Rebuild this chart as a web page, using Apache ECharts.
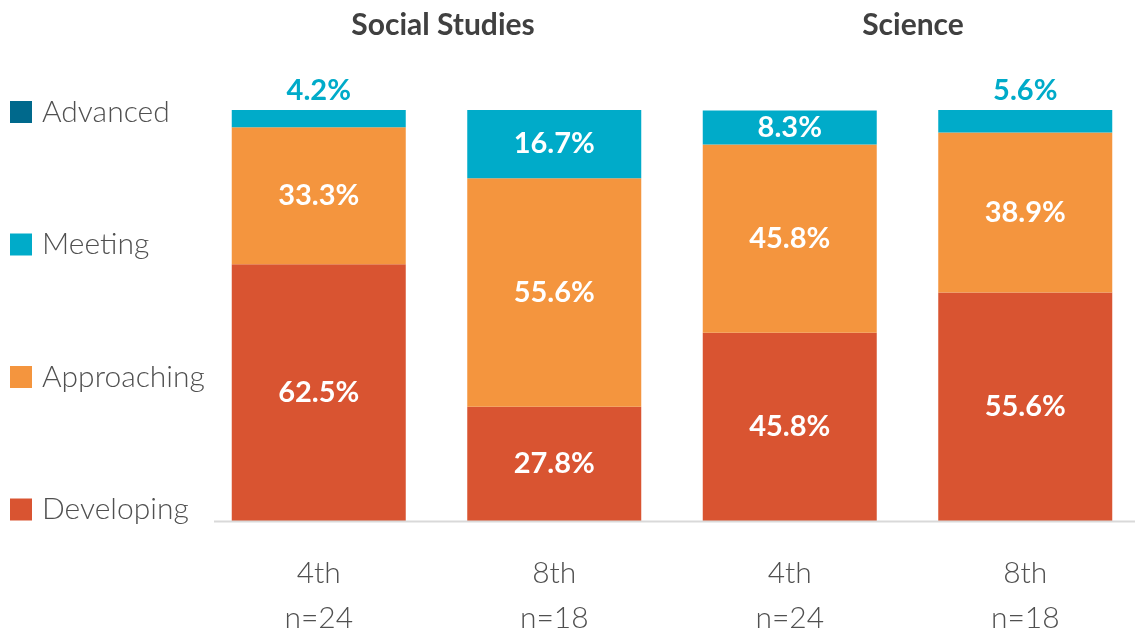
<!DOCTYPE html>
<html>
<head>
<meta charset="utf-8">
<script src="https://cdn.jsdelivr.net/npm/echarts@6/dist/echarts.min.js"></script>
<style>
  html, body { margin: 0; padding: 0; background: #fff; }
  #main { width: 1135px; height: 632px; }
</style>
</head>
<body>
<div id="main"></div>
<script>
// data
var grades = ['4th\nn=24', '8th\nn=18', '4th\nn=24', '8th\nn=18'];
var subjects = ['Social Studies', 'Science'];
var developing = [62.5, 27.8, 45.8, 55.6];
var approaching = [33.3, 55.6, 45.8, 38.9];
var meeting = [4.2, 16.7, 8.3, 5.6];
var advanced = [0, 0, 0, 0];
var levels = ['Advanced', 'Meeting', 'Approaching', 'Developing'];

var colors = {
  Advanced: '#00698c',
  Meeting: '#00abc9',
  Approaching: '#f4953e',
  Developing: '#d95431'
};
var FONT = 'Lato, "Noto Sans", sans-serif';

var chart = echarts.init(document.getElementById('main'));

// small segments get their label above the bar, in the bar colour
function meetingData() {
  return meeting.map(function (v) {
    if (v < 8) {
      return {
        value: v,
        label: { position: 'top', color: colors.Meeting, distance: 5 }
      };
    }
    return v;
  });
}

var labelStyle = {
  show: true,
  position: 'inside',
  color: '#fff',
  fontFamily: FONT,
  fontWeight: 'bold',
  fontSize: 29,
  formatter: function (p) { return p.value.toFixed(1) + '%'; }
};

function makeSeries(name, data, withLabel) {
  return {
    name: name,
    type: 'bar',
    stack: 'total',
    barWidth: 174,
    data: data,
    itemStyle: { color: colors[name] },
    label: withLabel ? labelStyle : { show: false },
    emphasis: { disabled: true }
  };
}

var option = {
  animation: false,
  title: [
    {
      text: subjects[0], left: 438, top: 5, textAlign: 'center',
      textStyle: { fontFamily: FONT, fontWeight: 'bold', fontSize: 30, color: '#404040' }
    },
    {
      text: subjects[1], left: 908, top: 5, textAlign: 'center',
      textStyle: { fontFamily: FONT, fontWeight: 'bold', fontSize: 30, color: '#404040' }
    }
  ],
  legend: {
    orient: 'vertical',
    left: 5,
    top: 92,
    itemWidth: 22,
    itemHeight: 22,
    itemGap: 102.5,
    icon: 'rect',
    data: levels,
    selectedMode: false,
    textStyle: { fontFamily: FONT, fontWeight: 300, fontSize: 30, color: '#505050', padding: [0, 0, 0, 5] }
  },
  grid: {
    left: 201,
    top: 110,
    width: 942,
    height: 411,
    containLabel: false,
    outerBoundsMode: 'none'
  },
  xAxis: {
    type: 'category',
    data: grades,
    axisLine: { show: false },
    axisTick: { show: false },
    axisLabel: {
      margin: 30,
      fontFamily: FONT,
      fontWeight: 300,
      fontSize: 30,
      color: '#505050',
      lineHeight: 45
    }
  },
  yAxis: {
    type: 'value',
    min: 0,
    max: 100,
    show: false,
    splitLine: { show: false }
  },
  graphic: [
    {
      type: 'line',
      shape: { x1: 214, y1: 521.5, x2: 1135, y2: 521.5 },
      style: { stroke: '#d9d9d9', lineWidth: 2 },
      z: 10
    }
  ],
  series: [
    makeSeries('Developing', developing, true),
    makeSeries('Approaching', approaching, true),
    makeSeries('Meeting', meetingData(), true),
    makeSeries('Advanced', advanced, false)
  ]
};

chart.setOption(option);
</script>
</body>
</html>
